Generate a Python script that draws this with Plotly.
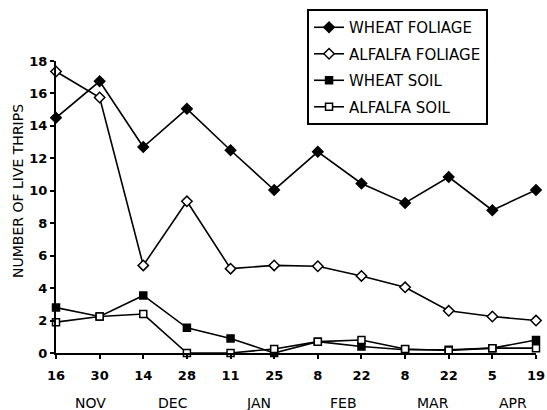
import plotly.graph_objects as go

dates = ["16", "30", "14", "28", "11", "25", "8", "22", "8", "22", "5", "19"]
months = ["NOV", "DEC", "JAN", "FEB", "MAR", "APR"]
month_pos = [0.78, 2.68, 4.63, 6.58, 8.64, 10.47]

wheat_foliage = [14.5, 16.75, 12.7, 15.05, 12.5, 10.05, 12.4, 10.45, 9.25, 10.85, 8.8, 10.05]
alfalfa_foliage = [17.35, 15.75, 5.4, 9.35, 5.2, 5.4, 5.35, 4.75, 4.05, 2.6, 2.25, 2.0]
wheat_soil = [2.8, 2.25, 3.55, 1.55, 0.9, 0.0, 0.7, 0.4, 0.2, 0.2, 0.3, 0.8]
alfalfa_soil = [1.9, 2.25, 2.4, 0.0, 0.0, 0.25, 0.7, 0.8, 0.25, 0.15, 0.3, 0.3]
y_ticks = list(range(0, 19, 2))

x = list(range(len(dates)))
FONT = "DejaVu Sans"

series = [
    ("WHEAT FOLIAGE", wheat_foliage, "diamond", "black", 8),
    ("ALFALFA FOLIAGE", alfalfa_foliage, "diamond", "white", 8),
    ("WHEAT SOIL", wheat_soil, "square", "black", 7),
    ("ALFALFA SOIL", alfalfa_soil, "square", "white", 7),
]

fig = go.Figure()
for i, (name, ys, sym, fill, sz) in enumerate(series):
    fig.add_trace(go.Scatter(
        x=x, y=ys, name=name, mode="lines+markers",
        line=dict(color="black", width=1.6),
        marker=dict(symbol=sym, size=sz, color=fill, line=dict(color="black", width=1.5)),
        cliponaxis=False, legendgroup=str(i),
    ))

for m, p in zip(months, month_pos):
    fig.add_annotation(x=p, y=0, xref="x", yref="paper", yanchor="top", yshift=-40,
                       text=m, showarrow=False, font=dict(family=FONT, size=14, color="black"))

fig.add_annotation(x=0, y=0.555, xref="paper", yref="paper", xshift=-38, textangle=-90,
                   xanchor="center", yanchor="middle",
                   text="NUMBER OF LIVE THRIPS", showarrow=False,
                   font=dict(family=FONT, size=14, color="black"))

fig.update_layout(
    width=547, height=410,
    margin=dict(l=56, r=11, t=61, b=57, autoexpand=False),
    paper_bgcolor="white", plot_bgcolor="white",
    showlegend=True,
    legend=dict(x=0.523, y=1.178, xref="paper", yref="paper",
                xanchor="left", yanchor="top",
                bordercolor="black", borderwidth=2, bgcolor="white",
                font=dict(family=FONT, size=15, color="black"),
                tracegroupgap=4, itemwidth=30),
    font=dict(family=FONT, color="black"),
    # inner half of the cross-shaped ticks
    xaxis2=dict(overlaying="x", range=[0, 11], tickmode="array", tickvals=x,
                ticks="inside", ticklen=4, tickwidth=1.5, tickcolor="black",
                showticklabels=False, showgrid=False, zeroline=False, showline=False,
                side="bottom"),
    yaxis2=dict(overlaying="y", range=[0, 18], tickmode="array", tickvals=y_ticks,
                ticks="inside", ticklen=4, tickwidth=1.5, tickcolor="black",
                showticklabels=False, showgrid=False, zeroline=False, showline=False,
                side="left"),
)

fig.update_xaxes(selector=dict(overlaying=None), range=[0, 11], tickmode="array", tickvals=x, ticktext=dates,
                 showline=True, linecolor="black", linewidth=2, ticks="outside",
                 ticklen=4, tickwidth=1.5, tickcolor="black", showgrid=False, zeroline=False,
                 tickfont=dict(family=FONT, size=13, color="black", weight="bold"),
                 ticklabelstandoff=5)
fig.update_yaxes(selector=dict(overlaying=None), range=[0, 18], tickmode="array", tickvals=y_ticks,
                 showline=True, linecolor="black", linewidth=2, ticks="outside",
                 ticklen=4, tickwidth=1.5, tickcolor="black", showgrid=False, zeroline=False,
                 tickfont=dict(family=FONT, size=13, color="black", weight="bold"))

fig.write_html("out.html", config={"displayModeBar": False},
               post_script="document.body.style.margin='0';document.body.style.overflow='hidden';")
